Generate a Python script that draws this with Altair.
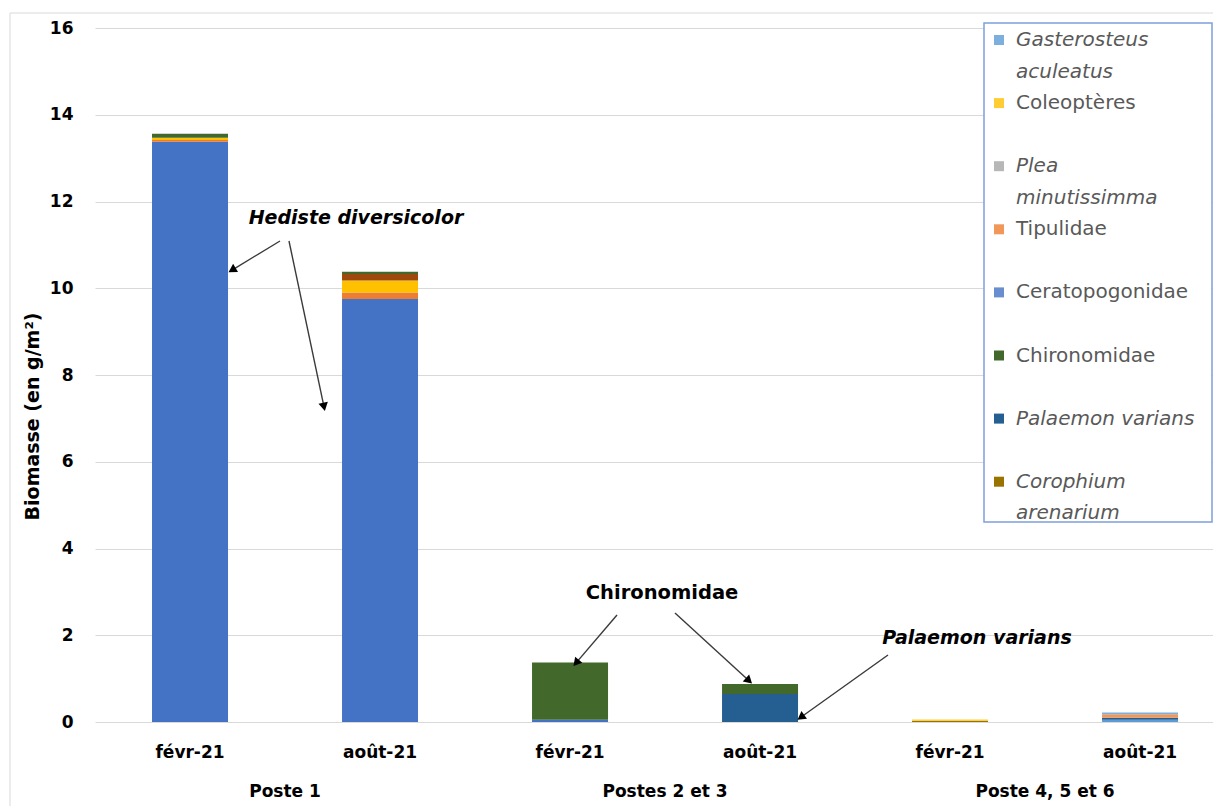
import math
import altair as alt
import pandas as pd

# ---------------- data ----------------
categories = [
    "Poste 1|févr-21", "Poste 1|août-21",
    "Postes 2 et 3|févr-21", "Postes 2 et 3|août-21",
    "Poste 4, 5 et 6|févr-21", "Poste 4, 5 et 6|août-21",
]
group_labels = ["Poste 1", "Postes 2 et 3", "Poste 4, 5 et 6"]
group_first_cat = [categories[0], categories[2], categories[4]]

# series in stacking order (bottom -> top)
series_names = [
    "Hediste diversicolor", "Taxon 2", "Taxon 4", "Taxon 5", "Taxon 8",
    "Corophium arenarium", "Palaemon varians", "Chironomidae",
    "Ceratopogonidae", "Tipulidae", "Plea minutissimma", "Coleoptères",
    "Gasterosteus aculeatus",
]
series_colors = [
    "#4472C4", "#ED7D31", "#FFC000", "#5B9BD5", "#9E480E",
    "#997300", "#255E91", "#43682B",
    "#698ED0", "#F1975A", "#B7B7B7", "#FFCD33",
    "#7CAFDD",
]
hediste      = [13.38, 9.75, 0.05, 0.00, 0.00, 0.00]
taxon2       = [0.04, 0.15, 0.00, 0.00, 0.00, 0.00]
taxon4       = [0.05, 0.28, 0.00, 0.00, 0.00, 0.00]
taxon5       = [0.00, 0.00, 0.00, 0.00, 0.00, 0.05]
taxon8       = [0.00, 0.15, 0.00, 0.00, 0.00, 0.00]
corophium    = [0.00, 0.00, 0.00, 0.00, 0.03, 0.00]
palaemon     = [0.00, 0.00, 0.00, 0.645, 0.00, 0.05]
chironomidae = [0.09, 0.05, 1.32, 0.23, 0.00, 0.00]
ceratopog    = [0.00, 0.00, 0.00, 0.00, 0.00, 0.00]
tipulidae    = [0.00, 0.00, 0.00, 0.00, 0.00, 0.08]
plea         = [0.00, 0.00, 0.00, 0.00, 0.00, 0.00]
coleopteres  = [0.00, 0.00, 0.00, 0.00, 0.03, 0.00]
gasterosteus = [0.00, 0.00, 0.00, 0.00, 0.00, 0.04]
series_values = [hediste, taxon2, taxon4, taxon5, taxon8, corophium, palaemon,
                 chironomidae, ceratopog, tipulidae, plea, coleopteres, gasterosteus]

legend_series = ["Gasterosteus aculeatus", "Coleoptères", "Plea minutissimma",
                 "Tipulidae", "Ceratopogonidae", "Chironomidae",
                 "Palaemon varians", "Corophium arenarium"]
legend_lines = [["Gasterosteus", "aculeatus"], ["Coleoptères"], ["Plea", "minutissimma"],
                ["Tipulidae"], ["Ceratopogonidae"], ["Chironomidae"],
                ["Palaemon varians"], ["Corophium", "arenarium"]]
legend_italic = [True, False, True, False, False, False, True, True]

y_ticks = [0, 2, 4, 6, 8, 10, 12, 14, 16]

# ---------------- build tables ----------------
rows = []
for si, (name, vals) in enumerate(zip(series_names, series_values)):
    for cat, v in zip(categories, vals):
        if v > 0:
            rows.append({"cat": cat, "serie": name, "val": v, "ord": si})
bars_df = pd.DataFrame(rows)

W, H = 1118, 694
FONT = "DejaVu Sans"
color_scale = alt.Scale(domain=series_names, range=series_colors)
x_scale = alt.Scale(domain=categories, paddingInner=0.6, paddingOuter=0.242, align=0.62)

bars = alt.Chart(bars_df).mark_bar(strokeWidth=0).encode(
    x=alt.X("cat:N", scale=x_scale, sort=categories, title=None,
            axis=alt.Axis(labelExpr="split(datum.label, '|')[1]", labelAngle=0,
                          labelFont=FONT, labelFontSize=17, labelFontWeight="bold",
                          labelColor="#000000", labelPadding=22, ticks=False,
                          domain=False, grid=False)),
    y=alt.Y("val:Q", stack="zero", scale=alt.Scale(domain=[0, 16], nice=False),
            title="Biomasse (en g/m²)",
            axis=alt.Axis(values=y_ticks, grid=True, gridColor="#d9d9d9", gridWidth=1,
                          domain=False, ticks=False, labelFont=FONT, labelFontSize=17,
                          labelFontWeight="bold", labelColor="#000000", labelPadding=22,
                          titleFont=FONT, titleFontSize=19, titleFontWeight="bold",
                          titleColor="#000000", titlePadding=7, titleY=388)),
    color=alt.Color("serie:N", scale=color_scale, legend=None),
    order=alt.Order("ord:Q", sort="ascending"),
)

one = pd.DataFrame({"k": [0]})

# group labels under the month labels
grp_df = pd.DataFrame({"cat": group_first_cat, "label": group_labels})
groups = alt.Chart(grp_df).mark_text(font=FONT, fontSize=17, fontWeight="bold",
                                     color="#000000", dx=95, baseline="middle").encode(
    x=alt.X("cat:N", scale=x_scale, sort=categories, title=None),
    y=alt.value(764),
    text="label:N",
)

# outer chart border (left / top edges)
border_left = alt.Chart(one).mark_rule(color="#d9d9d9", strokeWidth=1).encode(
    x=alt.value(-85), y=alt.value(-15), y2=alt.value(800))
border_top = alt.Chart(one).mark_rule(color="#d9d9d9", strokeWidth=1).encode(
    x=alt.value(-85), x2=alt.value(1130), y=alt.value(-15))

# legend (manual, to allow italic entries and wrapped labels)
LX0, LX1, LY0, LY1 = 889, 1117, -5, 494
legend_box = alt.Chart(one).mark_rect(fill="white", stroke="#7F9FDB", strokeWidth=1.5).encode(
    x=alt.value(LX0), x2=alt.value(LX1), y=alt.value(LY0), y2=alt.value(LY1))

leg_layers = [legend_box]
ROW0, ROWSTEP, LINEH = 12, 63.1, 31.7
for i, (name, lines, ital) in enumerate(zip(legend_series, legend_lines, legend_italic)):
    ry = ROW0 + ROWSTEP * i
    sq = alt.Chart(pd.DataFrame({"serie": [name]})).mark_square(size=100, opacity=1).encode(
        x=alt.value(904), y=alt.value(ry),
        color=alt.Color("serie:N", scale=color_scale, legend=None))
    leg_layers.append(sq)
    for j, ln in enumerate(lines):
        t = alt.Chart(pd.DataFrame({"t": [ln]})).mark_text(
            font=FONT, fontSize=20, color="#595959", align="left", baseline="middle",
            fontStyle="italic" if ital else "normal").encode(
            x=alt.value(921), y=alt.value(ry + LINEH * j), text="t:N")
        leg_layers.append(t)

# annotations
ann_layers = []
ann_texts = [("Hediste diversicolor", 261, 190, True, 19),
             ("Chironomidae", 567, 565, False, 19.5),
             ("Palaemon varians", 882, 610, True, 19)]
for txt, ax, ay, ital, fs in ann_texts:
    ann_layers.append(alt.Chart(pd.DataFrame({"t": [txt]})).mark_text(
        font=FONT, fontSize=fs, fontWeight="bold", color="#000000",
        fontStyle="italic" if ital else "normal", baseline="middle").encode(
        x=alt.value(ax), y=alt.value(ay), text="t:N"))

arrows = [((185, 213), (133, 244.5)),
          ((194, 213), (230, 383.5)),
          ((522, 587), (478, 638.5)),
          ((580, 585), (657.5, 656)),
          ((793, 627), (702, 692))]
HEAD = 90
r = math.sqrt(HEAD) / 2
for (x0, y0), (x1, y1) in arrows:
    dx, dy = x1 - x0, y1 - y0
    L = math.hypot(dx, dy)
    ux, uy = dx / L, dy / L
    cx, cy = x1 - r * ux, y1 - r * uy
    ang = math.degrees(math.atan2(dx, -dy)) % 360
    ann_layers.append(alt.Chart(one).mark_rule(color="#3a3a3a", strokeWidth=1.4).encode(
        x=alt.value(x0), y=alt.value(y0), x2=alt.value(cx), y2=alt.value(cy)))
    ann_layers.append(alt.Chart(one).mark_point(shape="triangle-up", filled=True, size=HEAD,
                                                 color="#000000", opacity=1, angle=ang).encode(
        x=alt.value(cx), y=alt.value(cy)))

chart = alt.layer(border_left, border_top, bars, groups, *leg_layers, *ann_layers).properties(
    width=W, height=H,
    autosize=alt.AutoSizeParams(type="none"),
    padding={"left": 87, "top": 20, "right": 0, "bottom": 84},
    background="white",
).configure_view(stroke=None)

chart.save("out.html", embed_options={"renderer": "svg", "actions": False})
